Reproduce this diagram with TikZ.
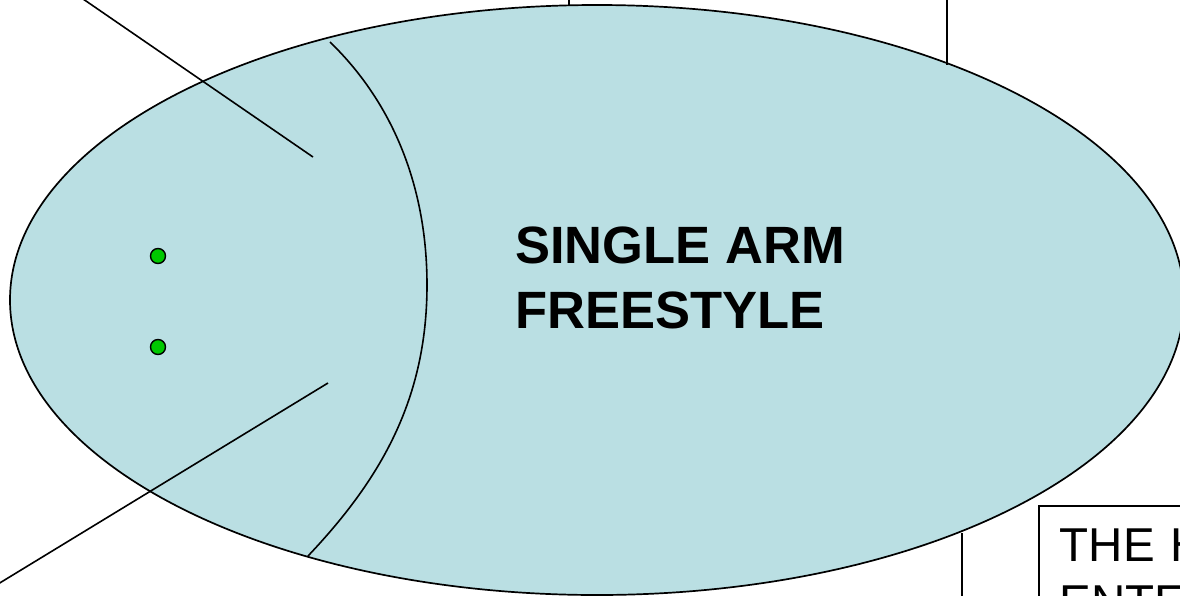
\documentclass[tikz,border=0pt]{standalone}
\usepackage{fontspec}
\setmainfont{Liberation Sans}
\usepackage{xcolor}
\usetikzlibrary{shapes.geometric}

\definecolor{fieldblue}{RGB}{186,223,227}
\definecolor{dotgreen}{RGB}{0,200,0}

\begin{document}
\begin{tikzpicture}[
    x=1pt, y=-1pt,
    field/.style={ellipse, draw=black, fill=fieldblue, line width=1.7pt, minimum width=1174pt, minimum height=590pt, inner sep=0pt},
    spot/.style={circle, draw=black, fill=dotgreen, line width=1.4pt, minimum size=15pt, inner sep=0pt},
    leader/.style={draw=black, line width=1.6pt},
    title/.style={align=left, inner sep=0pt, font=\bfseries\fontsize{52.5}{65}\selectfont},
    notebox/.style={draw=black, line width=1.6pt, align=left, anchor=north west, text width=320pt, inner xsep=21pt, inner ysep=23pt, font=\fontsize{47.5}{57}\selectfont}
]
    \useasboundingbox (0,0) rectangle (1180,595);
    \clip (0,0) rectangle (1180,595);

    % The playing field
    \node[field] (FIELD) at (597,300) {};

    % Dividing arc
    \draw[leader] (330,42) .. controls (395,105) and (427,190) .. (427,285)
        .. controls (427,400) and (380,480) .. (308,556);

    % Leader lines
    \coordinate (TLout) at (70,-10);
    \coordinate (TLin) at (313,157);
    \coordinate (BLout) at (-20,595);
    \coordinate (BLin) at (328,383);
    \draw[leader] (TLout) -- (TLin);
    \draw[leader] (BLout) -- (BLin);

    \coordinate (TOPa) at (569,-10);
    \coordinate (TOPb) at (569,5);
    \coordinate (TOPc) at (947,-10);
    \coordinate (TOPd) at (947,65);
    \coordinate (BOTa) at (962,533);
    \coordinate (BOTb) at (962,610);
    \draw[leader] (TOPa) -- (TOPb);
    \draw[leader] (TOPc) -- (TOPd);
    \draw[leader] (BOTa) -- (BOTb);

    % Green spots
    \node[spot] (SPOT1) at (158,256) {};
    \node[spot] (SPOT2) at (158,347) {};

    % Labels
    \node[title, anchor=base west] (TITLE) at (515,328) {SINGLE ARM\\FREESTYLE};
    \node[notebox] (NOTE) at (1038,505) {THE H\\ENTE};
\end{tikzpicture}
\end{document}
